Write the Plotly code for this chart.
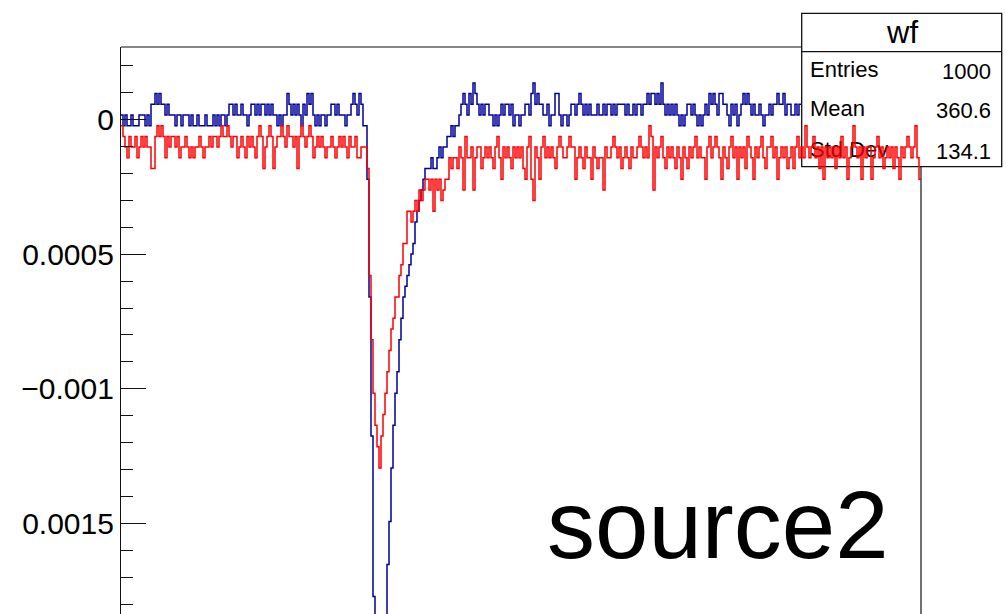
import numpy as np
import plotly.graph_objects as go

# ---------------- data ----------------
N_BINS = 400
X_MIN, X_MAX = 0.0, 1000.0
LSB = 3.969e-5      # volts per digitizer count
OFFSET = 1.595e-5   # baseline offset (volts)

# blue waveform (counts), bins 0..339 (the rest is hidden behind the stats box)
blue_counts = [
    0, -1, 0, -1, -1, 0, -1, -1, -1, 0,
    0, 0, -1, 0, -1, 1, 1, 2, 1, 2,
    1, 1, 0, 1, 0, 0, 0, -1, 0, 0,
    -1, 0, 0, 0, -1, 0, -1, -1, 0, -1,
    -1, -1, 0, -1, -1, -1, 0, -1, 0, -1,
    0, 0, -1, 0, 1, 1, 0, 1, 0, 0,
    1, 0, 0, -1, 0, 1, 1, 0, 1, 0,
    1, 1, 0, 1, 0, 1, 0, 0, -1, 0,
    -1, 0, 0, 2, 1, 0, 1, 0, 1, 0,
    -1, 1, 0, 2, 1, 2, 0, -1, 0, -1,
    0, 0, -1, 0, 0, 1, 1, 0, 1, 0,
    0, 0, -1, 0, 0, 1, 2, 1, 0, 2,
    1, -1,
    # pulse
    -1, -6, -17, -30, -45, -52, -60, -64, -63, -58,
    -50, -42, -38, -33, -29, -26, -24, -21, -19, -17,
    -16, -15, -14, -13, -12, -10, -9, -8, -7, -6,
    -5, -5, -5, -4, -5, -5, -4, -3, -4, -3,
    -3, -2, -2, -1, -2, -1, -1, 0,
    # after pulse
    1, 2, 1, 0, 2, 1, 3, 2, 1, 0,
    1, 0, 1, 1, 0, 0, -1, 0, -1, 0,
    1, 0, 1, 1, 0, 1, -1, 0, 0, -1,
    0, 0, 1, 1, 0, 2, 3, 1, 2, 1,
    1, 0, 0, 1, -1, 0, 0, 2, 2, 0,
    -1, 0, 0, -1, 0, 1, 1, 0, 1, 2,
    1, 0, 1, 0, 1, 0, 0, 0, 1, 0,
    0, 1, 0, 1, 1, 0, 1, 0, 1, 1,
    1, 1, 0, 1, 0, 0, 1, 0, 1, 1,
    0, 1, 1, 2, 1, 2, 2, 1, 2, 1,
    3, 1, 0, 1, 0, 1, 0, 1, 0, -1,
    0, -1, 0, 1, 1, 0, 1, 0, -1, 0,
    -1, 0, 1, 0, 2, 1, 2, 1, 0, 2,
    2, 1, 1, 0, -1, 1, 0, 1, -1, 0,
    1, 2, 1, 2, 1, 0, 1, 0, 0, 1,
    0, -1, 0, 0, 1, 0, 1, 1, 2, 1,
    1, 2, 0, 1, 1, 0, 0, 1, 0, 1,
]

# red waveform (counts), bins 0..399
red_counts = [
    -1, -2, -3, -4, -2, -3, -3, -2, -4, -3,
    -2, -3, -2, -3, -3, -5, -5, -2, -1, -2,
    -1, -2, -4, -2, -3, -2, -2, -3, -2, -4,
    -3, -3, -2, -3, -4, -3, -4, -3, -3, -2,
    -3, -4, -3, -3, -2, -3, -2, -2, -3, -2,
    -1, -2, -2, -1, -2, -3, -2, -2, -4, -3,
    -2, -3, -4, -2, -3, -2, -3, -4, -2, -1,
    -2, -5, -3, -2, -1, -2, -5, -3, -2, -2,
    -1, -2, -3, -1, -2, -2, -3, -2, -5, -2,
    -1, -2, -3, -2, -1, -2, -4, -3, -2, -3,
    -2, -3, -4, -3, -3, -2, -3, -4, -3, -2,
    -3, -2, -3, -4, -2, -3, -3, -2, -4, -4,
    -3, -3,
    # pulse
    -3, -5, -15, -21, -26, -29, -31, -33, -30, -28,
    -26, -24, -22, -20, -19, -17, -17, -15, -14, -12,
    -12, -9, -9, -10, -9, -8, -9, -7, -8, -7,
    -6,
    -6, -7, -6, -9, -6, -7, -6, -8, -7, -6,
    -6,
    # after pulse
    -4, -5, -4, -4, -5, -3, -4, -7, -2, -4,
    -4, -3, -7, -4, -3, -3, -5, -4, -3, -4,
    -3, -4, -5, -3, -2, -4, -6, -3, -4, -3,
    -4, -5, -3, -4, -3, -4, -3, -5, -6, -3,
    -2, -6, -8, -3, -4, -6, -3, -2, -4, -3,
    -4, -3, -4, -5, -3, -2, -3, -4, -4, -3,
    -2, -3, -3, -6, -4, -3, -4, -5, -3, -4,
    -4, -6, -3, -4, -5, -4, -4, -7, -3, -4,
    -4, -3, -2, -3, -4, -3, -5, -4, -3, -4,
    -5, -3, -4, -4, -3, -2, -3, -4, -3, -4,
    -1, -2, -7, -3, -4, -3, -2, -4, -5, -3,
    -4, -3, -4, -5, -3, -4, -6, -3, -4, -5,
    -3, -4, -3, -2, -4, -3, -4, -4, -6, -3,
    -2, -4, -3, -2, -3, -4, -6, -3, -4, -5,
    -3, -2, -4, -3, -6, -3, -4, -3, -5, -2,
    -3, -4, -6, -3, -4, -3, -2, -4, -5, -3,
    -3, -2, -4, -3, -6, -4, -3, -4, -3, -5,
    -4, -3, -5, -3, -2, -4, -3, -4, -1, -3,
    -4, -3, -2, -4, -3, -5, -3, -6, -3, -4,
    -3, -4, -3, -5, -3, -4, -2, -4, -3, -6,
    -4, -3, -1, -3, -4, -3, -6, -3, -4, -3,
    -3, -6, -4, -3, -2, -4, -3, -5, -4, -3,
    -4, -3, -5, -3, -4, -6, -3, -4, -3, -2,
    -3, -4, -3, -1, -4, -6,
]

y_tick_vals = [0.0, -0.0005, -0.001, -0.0015]
y_tick_text = ["0", "0.0005", "\u22120.001", "0.0015"]

stats_title = "wf"
stats_labels = ["Entries", "Mean", "Std Dev"]
stats_values = ["1000", "360.6", "134.1"]
label_text = "source2"

assert len(red_counts) == N_BINS, len(red_counts)
assert len(blue_counts) == 340, len(blue_counts)

# ---------------- geometry ----------------
W, H = 1006, 614
PLOT_L, PLOT_W = 121, 800
PLOT_T, PLOT_H = 47, 567
Y_TOP, Y_BOTTOM = 2.682e-4, -1.835e-3
FONT = "Liberation Sans, Arial, Helvetica, sans-serif"

edges = np.linspace(X_MIN, X_MAX, N_BINS + 1)


def step_xy(counts):
    n = len(counts)
    x = edges[: n + 1]
    y = np.asarray(counts, dtype=float) * LSB + OFFSET
    y = np.append(y, y[-1])
    return x, y


def px_to_x(px):
    return X_MIN + (px - PLOT_L) / PLOT_W * (X_MAX - X_MIN)


def py_to_y(py):
    return Y_TOP - (py - PLOT_T) / PLOT_H * (Y_TOP - Y_BOTTOM)


def px_paper(px):
    return (px - PLOT_L) / PLOT_W


def py_paper(py):
    return (PLOT_T + PLOT_H - py) / PLOT_H


fig = go.Figure()

bx, by = step_xy(blue_counts)
fig.add_trace(go.Scatter(x=bx, y=by, mode="lines", line=dict(color="#00009c", width=1.5, shape="hv"),
                         showlegend=False, hoverinfo="skip"))

# stats-box row labels (drawn before red so red overlays them, as in the original)
row_y = [71.5, 110.5, 151.5]
fig.add_trace(go.Scatter(
    x=[px_to_x(810)] * 3, y=[py_to_y(v) for v in row_y], mode="text", text=stats_labels,
    textposition="middle right", textfont=dict(family=FONT, size=22, color="black"),
    cliponaxis=False, showlegend=False, hoverinfo="skip"))

rx, ry = step_xy(red_counts)
fig.add_trace(go.Scatter(x=rx, y=ry, mode="lines", line=dict(color="#ff0000", width=1.5, shape="hv"),
                         showlegend=False, hoverinfo="skip"))

frame_col = "#111111"
shapes = [
    dict(type="line", xref="paper", yref="paper", x0=0, x1=1, y0=1, y1=1,
         line=dict(color=frame_col, width=1.2), layer="below"),
    dict(type="line", xref="paper", yref="paper", x0=1, x1=1, y0=1, y1=-0.1,
         line=dict(color=frame_col, width=1.2), layer="below"),
    dict(type="rect", xref="paper", yref="paper",
         x0=px_paper(801.7), x1=px_paper(1001.7), y0=py_paper(166.7), y1=py_paper(13.3),
         fillcolor="white", line=dict(color=frame_col, width=1.3), layer="below"),
    dict(type="line", xref="paper", yref="paper",
         x0=px_paper(801.7), x1=px_paper(1001.7), y0=py_paper(51.7), y1=py_paper(51.7),
         line=dict(color=frame_col, width=1.3), layer="below"),
]

annotations = [dict(
    text=label_text, xref="paper", yref="paper",
    x=px_paper(545), y=py_paper(524), xanchor="left", yanchor="middle",
    showarrow=False, font=dict(family=FONT, size=96, color="black"),
), dict(
    text=stats_title, xref="paper", yref="paper",
    x=px_paper(901.7), y=py_paper(33), xanchor="center", yanchor="middle",
    showarrow=False, font=dict(family=FONT, size=31, color="black"),
)]
for v, yy in zip(stats_values, row_y):
    annotations.append(dict(
        text=v, xref="paper", yref="paper",
        x=px_paper(993), y=py_paper(yy), xanchor="right", yanchor="middle",
        showarrow=False, font=dict(family=FONT, size=22, color="black"),
    ))

fig.update_layout(
    width=W, height=H, autosize=False,
    margin=dict(l=PLOT_L, r=W - PLOT_L - PLOT_W, t=PLOT_T, b=H - PLOT_T - PLOT_H, pad=0),
    paper_bgcolor="white", plot_bgcolor="white",
    shapes=shapes,
    xaxis=dict(range=[X_MIN, X_MAX], visible=False, showgrid=False, zeroline=False, fixedrange=True),
    yaxis=dict(
        range=[Y_BOTTOM, Y_TOP], showgrid=False, zeroline=False,
        showline=True, linecolor=frame_col, linewidth=1.2,
        tickmode="array", tickvals=y_tick_vals, ticktext=y_tick_text,
        ticks="inside", ticklen=25, tickwidth=1, tickcolor=frame_col,
        minor=dict(ticks="inside", ticklen=12, tickwidth=1, tickcolor=frame_col,
                   tick0=0, dtick=0.0001, showgrid=False),
        tickfont=dict(family=FONT, size=30, color="black"),
        ticklabelstandoff=0,
    ),
    annotations=annotations,
    showlegend=False,
)

fig.write_html("out.html", config={"displayModeBar": False})
